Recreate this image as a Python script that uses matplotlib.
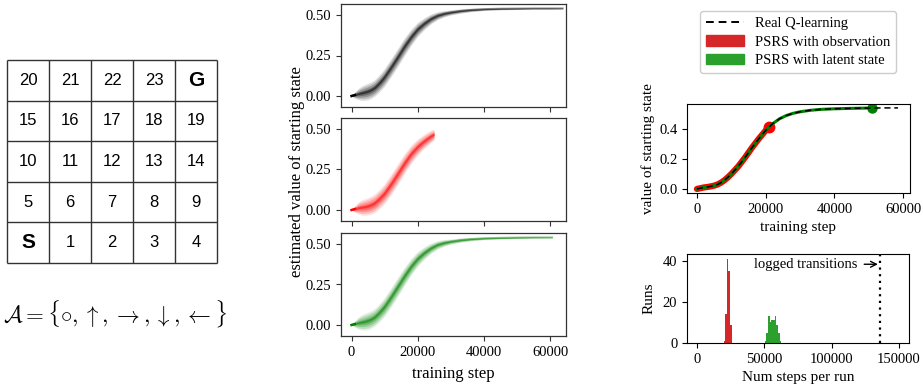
import numpy as np
import matplotlib
matplotlib.use('Agg')
import matplotlib.pyplot as plt
from matplotlib.patches import Patch
from matplotlib.lines import Line2D

plt.rcParams['font.family'] = ['Liberation Serif', 'DejaVu Serif']
plt.rcParams['mathtext.fontset'] = 'cm'

# ---------------- data ----------------
grid_labels = [['20', '21', '22', '23', 'G'],
               ['15', '16', '17', '18', '19'],
               ['10', '11', '12', '13', '14'],
               ['5', '6', '7', '8', '9'],
               ['S', '1', '2', '3', '4']]
action_text = r'$\mathcal{A} = \{\circ, \uparrow, \rightarrow, \downarrow, \leftarrow\}$'

# middle panels: estimated value of starting state over runs (centre & spread)
steps_black = [0, 1000, 2000, 3000, 4000, 5000, 6000, 7000, 8000, 9000, 10000, 12000, 14000,
               16000, 18000, 20000, 22000, 24000, 26000, 28000, 30000, 33000, 36000, 40000,
               45000, 50000, 55000, 60000, 63800]
mean_black = [0, 0.006, 0.012, 0.017, 0.022, 0.028, 0.037, 0.05, 0.07, 0.092, 0.117, 0.177, 0.24,
              0.305, 0.363, 0.412, 0.447, 0.476, 0.496, 0.508, 0.516, 0.525, 0.531, 0.536,
              0.539, 0.54, 0.541, 0.541, 0.541]
spread_black = [0, 0.016, 0.028, 0.036, 0.04, 0.042, 0.042, 0.042, 0.043, 0.044, 0.045, 0.046, 0.046,
                0.045, 0.041, 0.036, 0.03, 0.025, 0.02, 0.016, 0.013, 0.011, 0.009, 0.007,
                0.006, 0.005, 0.004, 0.004, 0.003]

steps_red = [0, 1000, 2000, 3000, 4000, 5000, 6000, 7000, 8000, 9000, 10000, 12000, 14000,
             16000, 18000, 20000, 22000, 24000, 24900]
mean_red = [0, 0.006, 0.012, 0.015, 0.018, 0.023, 0.031, 0.042, 0.06, 0.08, 0.102, 0.16, 0.223,
            0.287, 0.345, 0.39, 0.425, 0.455, 0.465]
spread_red = [0, 0.016, 0.03, 0.038, 0.042, 0.044, 0.046, 0.047, 0.048, 0.049, 0.05, 0.052, 0.052,
              0.05, 0.046, 0.041, 0.036, 0.031, 0.028]

steps_green = [0, 1000, 2000, 3000, 4000, 5000, 6000, 7000, 8000, 9000, 10000, 12000, 14000,
               16000, 18000, 20000, 22000, 24000, 26000, 28000, 30000, 33000, 36000, 40000,
               45000, 50000, 55000, 60600]
mean_green = [0, 0.006, 0.012, 0.016, 0.02, 0.026, 0.035, 0.048, 0.067, 0.089, 0.113, 0.173, 0.237,
              0.301, 0.36, 0.409, 0.445, 0.474, 0.495, 0.507, 0.515, 0.524, 0.53, 0.535,
              0.538, 0.54, 0.541, 0.541]
spread_green = [0, 0.016, 0.03, 0.038, 0.042, 0.044, 0.044, 0.044, 0.045, 0.046, 0.047, 0.048, 0.048,
                0.046, 0.042, 0.037, 0.031, 0.026, 0.021, 0.017, 0.013, 0.011, 0.009, 0.007,
                0.006, 0.005, 0.004, 0.003]

# right top: averaged value of starting state
q_steps = [0, 1000, 2000, 3000, 4000, 5000, 6000, 7000, 8000, 9000, 10000, 12000, 14000,
           16000, 18000, 20000, 22000, 24000, 26000, 28000, 30000, 33000, 36000, 40000,
           45000, 50000, 55000, 58500]
q_avg = [0, 0.005, 0.01, 0.013, 0.017, 0.022, 0.03, 0.042, 0.058, 0.078, 0.1, 0.15, 0.21,
         0.275, 0.335, 0.39, 0.435, 0.468, 0.49, 0.505, 0.515, 0.525, 0.531, 0.535,
         0.538, 0.54, 0.541, 0.541]
obs_steps = [0, 1000, 2000, 3000, 4000, 5000, 6000, 7000, 8000, 9000, 10000, 12000, 14000,
             16000, 18000, 20000, 21000]
obs_avg = [0, 0.005, 0.01, 0.013, 0.017, 0.022, 0.03, 0.042, 0.058, 0.078, 0.1, 0.15, 0.21,
           0.275, 0.335, 0.39, 0.413]
latent_steps = [0, 1000, 2000, 3000, 4000, 5000, 6000, 7000, 8000, 9000, 10000, 12000, 14000,
                16000, 18000, 20000, 22000, 24000, 26000, 28000, 30000, 33000, 36000, 40000,
                45000, 50000, 51000]
latent_avg = [0, 0.005, 0.01, 0.013, 0.017, 0.022, 0.03, 0.042, 0.058, 0.078, 0.1, 0.15, 0.21,
              0.275, 0.335, 0.39, 0.435, 0.468, 0.49, 0.505, 0.515, 0.525, 0.531, 0.535,
              0.538, 0.54, 0.54]

# right bottom: histogram of steps per run
obs_bin_edges = [19800, 20990, 22180, 23370, 24560, 25750]
obs_counts = [1, 14, 41, 35, 9]
latent_bin_edges = [50240, 51480, 52720, 53960, 55200, 56440, 57680, 58920, 60160, 61400, 62640]
latent_counts = [1, 5, 13, 10, 11, 11, 13, 9, 5, 1]
logged_transitions = 135900

# ---------------- figure ----------------
W, H = 923, 386
fig = plt.figure(figsize=(W / 100, H / 100), dpi=100)


def fax(left, top, right, bottom):
    return fig.add_axes([left / W, 1 - bottom / H, (right - left) / W, (bottom - top) / H])


# grid world
axg = fax(7, 60, 217, 263)
axg.set_xlim(0, 5)
axg.set_ylim(0, 5)
axg.set_axis_off()
for i in range(6):
    axg.plot([i, i], [0, 5], color='#333333', lw=1.0, solid_capstyle='butt', clip_on=False)
    axg.plot([0, 5], [i, i], color='#333333', lw=1.0, solid_capstyle='butt', clip_on=False)
for r, row in enumerate(grid_labels):
    for c, lab in enumerate(row):
        bold = lab in ('S', 'G')
        axg.text(c + 0.5, 4.5 - r, lab, ha='center', va='center',
                 family=['Liberation Sans', 'DejaVu Sans'],
                 fontsize=15 if bold else 12, fontweight='bold' if bold else 'normal')
fig.text(3 / W, 1 - 314 / H, action_text, ha='left', va='center', fontsize=16.5)

# middle panels
mid_specs = [(4, 107, steps_black, mean_black, spread_black, 'black'),
             (118, 221, steps_red, mean_red, spread_red, 'red'),
             (233, 336, steps_green, mean_green, spread_green, 'green')]
mid_axes = []
for top, bottom, st, mn, sp, col in mid_specs:
    ax = fax(341, top, 566, bottom)
    st = np.array(st, float)
    mn = np.array(mn, float)
    sp = np.array(sp, float)
    for k, a in [(1.25, 0.1), (1.0, 0.16), (0.7, 0.22), (0.4, 0.28), (0.15, 0.3)]:
        ax.fill_between(st, mn - k * sp, mn + k * sp, color=col, alpha=a, lw=0)
    ax.plot(st, mn, color=col, alpha=0.35, lw=1.5)
    ax.plot(st[:2], mn[:2], color=col, lw=1.8)
    ax.set_xlim(-3200, 64800)
    ax.set_ylim(-0.068, 0.568)
    ax.set_yticks([0, 0.25, 0.5])
    ax.set_yticklabels(['0.00', '0.25', '0.50'])
    ax.set_xticks([0, 20000, 40000, 60000])
    ax.tick_params(labelsize=10.5, length=3.5, width=0.8, color='#333333')
    for s in ax.spines.values():
        s.set_color('#333333')
        s.set_linewidth(0.9)
    mid_axes.append(ax)
for ax in mid_axes[:2]:
    ax.set_xticklabels([])
mid_axes[2].set_xlabel('training step', fontsize=12, labelpad=5)
fig.text(297 / W, 1 - 172 / H, 'estimated value of starting state', rotation=90,
         ha='center', va='center', fontsize=12)

# right top: averaged curves
axr = fax(687, 104, 910, 193)
axr.plot(obs_steps, obs_avg, color='red', lw=4.5, solid_capstyle='round')
axr.plot(obs_steps[-1], obs_avg[-1], 'o', color='red', ms=7.5)
axr.plot(latent_steps, latent_avg, color='green', lw=2.2)
axr.plot(latent_steps[-1], latent_avg[-1], 'o', color='green', ms=6.5)
axr.plot(q_steps, q_avg, color='black', lw=1.1, ls=(0, (4, 2.5)))
axr.set_xlim(-2900, 62000)
axr.set_ylim(-0.027, 0.567)
axr.set_xticks([0, 20000, 40000, 60000])
axr.set_yticks([0, 0.2, 0.4])
axr.tick_params(labelsize=10.5, length=3.5, width=0.8)
axr.set_xlabel('training step', fontsize=11, labelpad=4)
axr.set_ylabel('value of starting state', fontsize=11, labelpad=3)

# right bottom: histogram
axh = fax(687, 254, 909, 343)
axh.bar(obs_bin_edges[:-1], obs_counts, width=np.diff(obs_bin_edges), align='edge',
        color='#d62728', edgecolor='none')
axh.bar(latent_bin_edges[:-1], latent_counts, width=np.diff(latent_bin_edges), align='edge',
        color='#2ca02c', edgecolor='none')
axh.axvline(logged_transitions, color='black', ls=(0, (1, 2)), lw=1.6)
axh.annotate('logged transitions', xy=(134300, 38.4), xytext=(119000, 38.4),
             ha='right', va='center', fontsize=10.5,
             arrowprops=dict(arrowstyle='->', color='black', lw=1.0, shrinkA=3, shrinkB=0))
axh.set_xlim(-7400, 157400)
axh.set_ylim(0, 43.4)
axh.set_xticks([0, 50000, 100000, 150000])
axh.set_yticks([0, 20, 40])
axh.tick_params(labelsize=10.5, length=3.5, width=0.8)
axh.set_xlabel('Num steps per run', fontsize=11, labelpad=4)
axh.set_ylabel('Runs', fontsize=11, labelpad=5)

# legend
handles = [Line2D([0], [0], color='black', ls=(0, (4, 2.5)), lw=1.4),
           Patch(color='#d62728'), Patch(color='#2ca02c')]
labels = ['Real Q-learning', 'PSRS with observation', 'PSRS with latent state']
fig.legend(handles, labels, loc='upper center', bbox_to_anchor=(798 / W, 1 - 4 / H),
           fontsize=10.5, handlelength=2.6, frameon=True, framealpha=1, edgecolor='#cccccc',
           fancybox=True, borderpad=0.4, labelspacing=0.35, handletextpad=0.8)

fig.savefig('out.png', dpi=100)
